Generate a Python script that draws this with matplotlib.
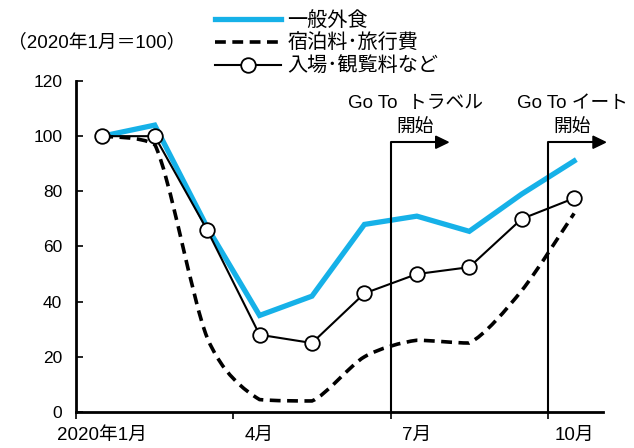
import numpy as np
import matplotlib
matplotlib.use("Agg")
import matplotlib.pyplot as plt
from matplotlib.path import Path
from matplotlib.patches import PathPatch, Polygon
from matplotlib.lines import Line2D

plt.rcParams['font.family'] = ['Liberation Sans', 'Noto Sans CJK JP', 'DejaVu Sans']

# monthly index, 2020-01 .. 2020-10 (Jan 2020 = 100)
months = np.arange(10)
eating_out = [100, 104, 67, 35, 42, 68, 71, 65.5, 79, 91]
lodging_travel = [100, 97, 27, 4.5, 4, 20, 26, 25, 44, 72]
admission = [100, 100, 66, 28, 25, 43, 50, 52.5, 70, 77.5]

tick_label_pos = [0, 3, 6, 9]
tick_labels = ["2020年1月", "4月", "7月", "10月"]
boundaries = [-0.5, 2.5, 5.5, 8.5]

events = [(5.5, "Go To  トラベル"), (8.5, "Go To イート")]

BLUE = "#16b1e8"

fig = plt.figure(figsize=(6.34, 4.48), dpi=100)
ax = fig.add_axes([0.12, 0.0804, 0.831, 0.7388])


def smooth_path(x, y, t=0.14):
    # cubic bezier through every point, control points kept inside each segment
    pts = np.column_stack([x, y]).astype(float)
    p = np.vstack([pts[0], pts, pts[-1]])
    verts = [pts[0]]
    codes = [Path.MOVETO]
    for i in range(1, len(p) - 2):
        a, b = p[i], p[i + 1]
        lo, hi = min(a[1], b[1]), max(a[1], b[1])
        c1 = a + (p[i + 1] - p[i - 1]) * t
        c2 = b - (p[i + 2] - p[i]) * t
        c1[1] = np.clip(c1[1], lo, hi)
        c2[1] = np.clip(c2[1], lo, hi)
        verts += [c1, c2, b]
        codes += [Path.CURVE4] * 3
    return Path(verts, codes)


ax.plot(months, eating_out, color=BLUE, lw=3.8, solid_joinstyle="miter", zorder=2)
dash = PathPatch(smooth_path(months, lodging_travel), fill=False, ec="black",
                 lw=2.6, linestyle=(0, (3, 1.8)), zorder=3)
ax.add_patch(dash)
ax.plot(months, admission, color="black", lw=1.5, marker="o", ms=10.5,
        mfc="white", mec="black", mew=1.3, zorder=4)

ax.set_xlim(-0.5, 9.55)
ax.set_ylim(0, 120)
ax.set_yticks(range(0, 121, 20))
ax.tick_params(axis="y", direction="in", length=5, width=1.2, labelsize=12.5, pad=10)

ax.set_xticks(boundaries)
ax.set_xticklabels([])
ax.set_xticks(tick_label_pos, minor=True)
ax.set_xticklabels(tick_labels, minor=True)
ax.tick_params(axis="x", which="major", direction="out", length=5, width=1.2)
ax.tick_params(axis="x", which="minor", length=0, labelsize=13.5, pad=11)

for s in ["top", "right"]:
    ax.spines[s].set_visible(False)
ax.spines["left"].set_linewidth(2)
ax.spines["bottom"].set_linewidth(2)

# policy start markers: vertical rule with a right-pointing arrow
for xb, label in events:
    ax.plot([xb, xb, xb + 0.88], [0, 97.8, 97.8], color="black", lw=1.5,
            clip_on=False, zorder=5)
    head = Polygon([[xb + 0.86, 100.0], [xb + 0.86, 95.6], [xb + 1.1, 97.8]],
                   closed=True, color="black", clip_on=False, zorder=5)
    ax.add_patch(head)
    ax.text(xb + 0.47, 112, label, ha="center", va="center", fontsize=13.5, zorder=6)
    ax.text(xb + 0.47, 103, "開始", ha="center", va="center", fontsize=13.5, zorder=6)

fig.text(0.012, 0.906, "（2020年1月＝100）", fontsize=13.5, va="center", ha="left")

handles = [
    Line2D([], [], color=BLUE, lw=3.8),
    Line2D([], [], color="black", lw=2.6, linestyle=(0, (3, 1.8))),
    Line2D([], [], color="black", lw=1.5, marker="o", ms=10.5, mfc="white",
           mec="black", mew=1.3),
]
fig.legend(handles, ["一般外食", "宿泊料･旅行費", "入場･観覧料など"],
           loc="upper left", bbox_to_anchor=(0.339, 0.975), frameon=False,
           fontsize=14.5, handlelength=3.3, handletextpad=0.3,
           labelspacing=0.2, borderpad=0, borderaxespad=0)

fig.savefig("out.png", dpi=100)
